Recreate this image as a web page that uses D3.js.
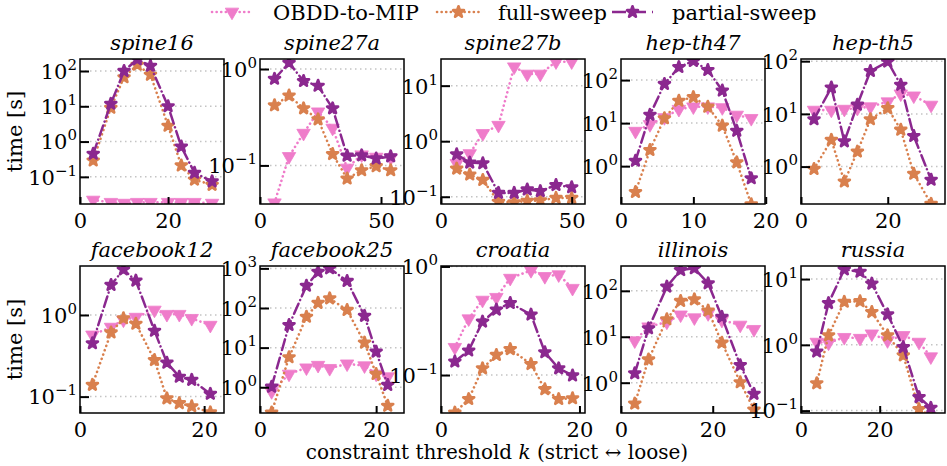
<!DOCTYPE html>
<html>
<head>
<meta charset="utf-8">
<script src="https://cdn.jsdelivr.net/npm/d3@7.9.0/dist/d3.min.js"></script>
<style>
  body { margin: 0; background: #fff; }
  svg text { font-family: "DejaVu Serif", "Liberation Serif", serif; fill: #000; }
  .tick text { font-size: 21px; }
  tspan.sup { font-size: 15px; }
</style>
</head>
<body>
<svg id="chart" width="947" height="466"></svg>
<script>
// panel names, in reading order
const datasets = ['spine16', 'spine27a', 'spine27b', 'hep-th47', 'hep-th5',
                  'facebook12', 'facebook25', 'croatia', 'illinois', 'russia'];

// constraint threshold k per panel
const kValues = [
  [3, 7, 10, 13, 16, 20, 23, 26, 30],
  [6, 12, 18, 24, 30, 36, 42, 48, 54],
  [6, 11, 16, 22, 28, 33, 38, 44, 50],
  [2, 4, 6, 8, 10, 12, 14, 16, 18],
  [3, 7, 10, 13, 16, 20, 23, 26, 30],
  [2, 5, 7, 9, 12, 14, 16, 18, 21],
  [2, 5, 8, 10, 12, 15, 18, 20, 22],
  [2, 4, 6, 8, 10, 13, 15, 17, 19],
  [3, 6, 10, 13, 16, 19, 22, 26, 29],
  [4, 7, 11, 15, 18, 22, 26, 30, 33]
];

// time [s]
const obddTimes = [
  [0.022, 0.019, 0.018, 0.019, 0.019, 0.019, 0.019, 0.019, 0.018],
  [0.041, 0.124, 0.216, 0.36, 0.244, 0.094, 0.129, 0.122, 0.12],
  [0.40, 0.60, 1.38, 1.94, 21.9, 16.2, 16.2, 27, 27],
  [6.5, 9.3, 13.5, 21, 24, 24, 23, 15.4, 12.9],
  [11.8, 11.8, 12.3, 12.8, 13.7, 17, 24, 22, 14.7],
  [0.57, 0.71, 0.87, 0.94, 1.15, 1.02, 1.02, 0.91, 0.75],
  [0.78, 2.16, 3.1, 3.6, 3.0, 3.9, 3.5, 2.16, 1.85],
  [0.18, 0.33, 0.49, 0.52, 0.78, 0.92, 0.81, 0.84, 0.63],
  [8.2, 16.5, 21, 30, 26, 32, 23, 18, 14.5],
  [1.1, 1.07, 1.3, 1.26, 1.47, 1.16, 1.39, 1.1, 0.66]
];

const fullTimes = [
  [0.29, 9, 66, 150, 78, 2.8, 0.21, 0.083, 0.059],
  [0.42, 0.53, 0.39, 0.30, 0.131, 0.073, 0.089, 0.098, 0.089],
  [0.32, 0.25, 0.20, 0.081, 0.079, 0.084, 0.086, 0.095, 0.095],
  [0.25, 2.36, 12.9, 33, 40, 24, 8.7, 1.22, 0.13],
  [0.90, 3.2, 0.52, 1.92, 7.9, 12.8, 5.0, 0.73, 0.196],
  [0.139, 0.61, 0.91, 0.78, 0.28, 0.095, 0.083, 0.076, 0.064],
  [0.23, 5.7, 60, 134, 174, 89, 13.3, 2.16, 0.34],
  [0.045, 0.06, 0.115, 0.153, 0.173, 0.126, 0.074, 0.06, 0.061],
  [0.35, 3.2, 24, 60, 65, 37, 7.4, 1.02, 0.26],
  [0.26, 1.39, 4.5, 4.6, 3.15, 1.39, 0.69, 0.105, 0.083]
];

const partialTimes = [
  [0.45, 11.7, 100, 215, 140, 10, 0.72, 0.13, 0.074],
  [0.79, 1.16, 0.75, 0.67, 0.39, 0.126, 0.127, 0.118, 0.124],
  [0.58, 0.41, 0.40, 0.117, 0.117, 0.135, 0.126, 0.162, 0.148],
  [1.33, 15.5, 81, 200, 277, 171, 57, 6.6, 0.52],
  [7.9, 31.6, 3.0, 14.9, 65, 98, 35.5, 3.8, 0.56],
  [0.45, 2.33, 3.6, 2.63, 0.64, 0.26, 0.175, 0.16, 0.108],
  [1.03, 37, 363, 813, 1000, 480, 63, 7.9, 1.14],
  [0.133, 0.168, 0.31, 0.40, 0.46, 0.36, 0.162, 0.115, 0.099],
  [1.6, 15.2, 123, 282, 309, 145, 27, 2.4, 0.57],
  [0.79, 4.3, 14, 12.9, 8.5, 2.9, 0.92, 0.16, 0.11]
];

// axis limits and x ticks
const xMax = [32.7, 59.5, 55.1, 19.9, 33.2, 23.2, 24.8, 20.8, 31.4, 36.6];
const yRange = [
  [0.017, 219], [0.0398, 1.27], [0.074, 30.2], [0.132, 309], [0.195, 110],
  [0.063, 3.98], [0.224, 1148], [0.0447, 1.01], [0.219, 347], [0.092, 15.8]
];
const xTickValues = [[0, 20], [0, 50], [0, 50], [0, 10, 20], [0, 20],
                     [0, 20], [0, 20], [0, 20], [0, 20], [0, 20]];

const seriesNames = ['OBDD-to-MIP', 'full-sweep', 'partial-sweep'];

// styles
const series = [
  { name: seriesNames[0], times: obddTimes, color: '#ef7cca', dash: '0.1,4.5', width: 2.6, marker: 'tri' },
  { name: seriesNames[1], times: fullTimes, color: '#d9804e', dash: '0.1,4.5', width: 2.6, marker: 'star' },
  { name: seriesNames[2], times: partialTimes, color: '#8b288f', dash: '11,4,0.1,4', width: 2.5, marker: 'star' }
];

const colLeft = [80, 260, 441, 621, 801];
const rowTop = [59, 266];
const panelH = [145, 147];
const panelW = 144;
const fs = 21;

const svg = d3.select('#chart');

const triSym = d3.symbol().type(d3.symbolTriangle).size(78);
const starSym = d3.symbol().type(d3.symbolStar).size(36);

function drawMarker(sel, s) {
  if (s.marker === 'tri') {
    sel.attr('d', triSym).attr('transform', d => `translate(${d.px},${d.py}) rotate(180)`)
      .attr('stroke-width', 0.8);
  } else {
    sel.attr('d', starSym).attr('transform', d => `translate(${d.px},${d.py})`)
      .attr('stroke-width', 2.8);
  }
  sel.attr('fill', s.color)
    .attr('stroke', s.color)
    .attr('stroke-linejoin', 'round');
}

function supLabel(textSel, base, exp) {
  textSel.text(null);
  textSel.append('tspan').text(base);
  textSel.append('tspan').attr('class', 'sup').attr('dy', -9).text(exp);
}

datasets.forEach((name, i) => {
  const row = Math.floor(i / 5), col = i % 5;
  const h = panelH[row];
  const g = svg.append('g').attr('transform', `translate(${colLeft[col]},${rowTop[row]})`);

  const x = d3.scaleLinear().domain([0, xMax[i]]).range([0, panelW]);
  const y = d3.scaleLog().domain(yRange[i]).range([h, 0]);

  const lo = Math.ceil(Math.log10(yRange[i][0]) - 1e-9);
  const hi = Math.floor(Math.log10(yRange[i][1]) + 1e-9);
  const decades = d3.range(lo, hi + 1);

  // grid
  g.selectAll('line.grid')
    .data(decades)
    .join('line')
    .attr('class', 'grid')
    .attr('x1', 0).attr('x2', panelW)
    .attr('y1', e => y(Math.pow(10, e)))
    .attr('y2', e => y(Math.pow(10, e)))
    .attr('stroke', '#c4c4c4')
    .attr('stroke-width', 1.5)
    .attr('stroke-dasharray', '1.5,3.5');

  // clip
  const clipId = 'clip' + i;
  g.append('clipPath').attr('id', clipId)
    .append('rect').attr('width', panelW).attr('height', h);
  const plot = g.append('g').attr('clip-path', `url(#${clipId})`);

  series.forEach(s => {
    const pts = kValues[i].map((k, j) => ({ px: x(k), py: y(s.times[i][j]) }));
    plot.append('path')
      .datum(pts)
      .attr('fill', 'none')
      .attr('stroke', s.color)
      .attr('stroke-width', s.width)
      .attr('stroke-dasharray', s.dash)
      .attr('stroke-linecap', 'round')
      .attr('d', d3.line().x(d => d.px).y(d => d.py));
    plot.selectAll(null)
      .data(pts)
      .join('path')
      .call(drawMarker, s);
  });

  // y axis
  const yAxis = g.append('g')
    .call(d3.axisLeft(y).tickValues(decades.map(e => Math.pow(10, e))).tickSize(-9).tickPadding(3).tickFormat(() => ''));
  yAxis.select('.domain').remove();
  yAxis.attr('font-family', null).attr('font-size', null);
  yAxis.selectAll('.tick line').attr('stroke', '#000').attr('stroke-width', 2);
  yAxis.selectAll('.tick text').attr('dy', '0.35em').each(function (d) {
    const e = Math.round(Math.log10(d));
    supLabel(d3.select(this), '10', e < 0 ? '\u2212' + (-e) : String(e));
  });

  // x axis
  const xAxis = g.append('g')
    .attr('transform', `translate(0,${h})`)
    .call(d3.axisBottom(x).tickValues(xTickValues[i]).tickSize(-7).tickPadding(9).tickFormat(d3.format('d')));
  xAxis.select('.domain').remove();
  xAxis.attr('font-family', null).attr('font-size', null);
  xAxis.selectAll('.tick line').attr('stroke', '#000').attr('stroke-width', 2);

  // frame
  g.append('rect')
    .attr('width', panelW).attr('height', h)
    .attr('fill', 'none').attr('stroke', '#000').attr('stroke-width', 1.5);

  // title
  g.append('text')
    .attr('x', panelW / 2).attr('y', -9)
    .attr('text-anchor', 'middle')
    .attr('font-size', fs)
    .attr('font-style', 'italic')
    .text(name);
});

// y labels
rowTop.forEach((top, r) => {
  svg.append('text')
    .attr('transform', `translate(22,${top + panelH[r] / 2}) rotate(-90)`)
    .attr('text-anchor', 'middle')
    .attr('font-size', fs)
    .text('time [s]');
});

// x label
const xl = svg.append('text')
  .attr('x', 497).attr('y', 459)
  .attr('text-anchor', 'middle')
  .attr('font-size', 20);
xl.append('tspan').text('constraint threshold ');
xl.append('tspan').attr('font-style', 'italic').text('k');
xl.append('tspan').text(' (strict \u2194 loose)');

// legend
const legendPos = [
  { x1: 212, x2: 252, tx: 273 },
  { x1: 437, x2: 480, tx: 498 },
  { x1: 612, x2: 653, tx: 672 }
];
series.forEach((s, j) => {
  const p = legendPos[j];
  const lg = svg.append('g');
  lg.append('line')
    .attr('x1', p.x1).attr('x2', p.x2).attr('y1', 12).attr('y2', 12)
    .attr('stroke', s.color).attr('stroke-width', s.width)
    .attr('stroke-dasharray', j === 2 ? '14,6' : s.dash)
    .attr('stroke-linecap', j === 2 ? 'butt' : 'round');
  lg.selectAll(null)
    .data([{ px: (p.x1 + p.x2) / 2, py: 12 }])
    .join('path')
    .call(drawMarker, s);
  lg.append('text')
    .attr('x', p.tx).attr('y', 20)
    .attr('font-size', fs)
    .text(s.name);
});
</script>
</body>
</html>
